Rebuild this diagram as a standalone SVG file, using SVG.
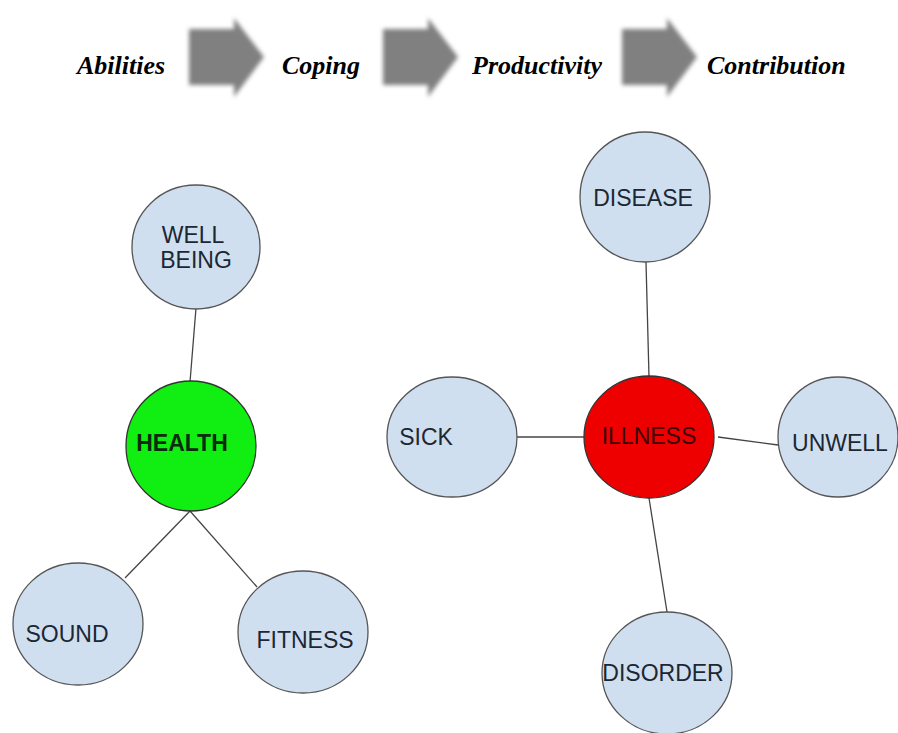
<svg xmlns="http://www.w3.org/2000/svg" width="898" height="733" viewBox="0 0 898 733">
<style>
.hdr{font-family:"Liberation Serif","Times New Roman",serif;font-weight:bold;font-style:italic;font-size:26px;fill:#000}
.lbl{font-family:"Liberation Sans",Arial,sans-serif;font-size:23px;fill:#1c2733;text-anchor:middle}
.node{fill:#cfdff0;stroke:#555;stroke-width:1.3}
.edge{stroke:#444;stroke-width:1.3;fill:none}
.arrow{fill:#808080;filter:url(#blur)}
</style>
<defs>
<filter id="blur" x="-20%" y="-20%" width="140%" height="140%"><feGaussianBlur stdDeviation="2"/></filter>
<path id="arr" d="M0,9 L45,9 L45,-2 L75,37 L45,77 L45,65 L0,65 Z"/>
</defs>
<rect width="898" height="733" fill="#fff"/>
<g id="header">
<text class="hdr" x="77" y="74">Abilities</text>
<use href="#arr" class="arrow" x="189" y="20"/>
<text class="hdr" x="282" y="74">Coping</text>
<use href="#arr" class="arrow" x="383" y="20"/>
<text class="hdr" x="472" y="74">Productivity</text>
<use href="#arr" class="arrow" x="622" y="20"/>
<text class="hdr" x="707" y="74">Contribution</text>
</g>
<g id="connectors">
<line class="edge" x1="196" y1="308" x2="190" y2="382"/>
<line class="edge" x1="190" y1="511" x2="125" y2="578"/>
<line class="edge" x1="190" y1="511" x2="257" y2="587"/>
<line class="edge" x1="646" y1="262" x2="649" y2="377"/>
<line class="edge" x1="517" y1="437" x2="584" y2="437"/>
<line class="edge" x1="718" y1="437" x2="778" y2="445"/>
<line class="edge" x1="649" y1="498" x2="667" y2="612"/>
</g>
<g id="well-being">
<ellipse class="node" cx="196" cy="247" rx="64" ry="62"/>
<text class="lbl" x="193" y="243">WELL</text>
<text class="lbl" x="196" y="268">BEING</text>
</g>
<g id="health">
<ellipse cx="191" cy="446" rx="65" ry="65" fill="#11ee11" stroke="#333" stroke-width="1.3"/>
<text class="lbl" x="182" y="451" font-weight="bold" style="fill:#0c2a0c">HEALTH</text>
</g>
<g id="sound">
<ellipse class="node" cx="78" cy="624" rx="65" ry="61"/>
<text class="lbl" x="67" y="642">SOUND</text>
</g>
<g id="fitness">
<ellipse class="node" cx="303" cy="632" rx="65" ry="61"/>
<text class="lbl" x="305" y="648">FITNESS</text>
</g>
<g id="disease">
<ellipse class="node" cx="645" cy="197" rx="65" ry="65"/>
<text class="lbl" x="643" y="206">DISEASE</text>
</g>
<g id="illness">
<ellipse cx="649" cy="437" rx="65" ry="61" fill="#ee0000" stroke="#333" stroke-width="1.3"/>
<text class="lbl" x="649" y="444" style="fill:#3a0505">ILLNESS</text>
</g>
<g id="sick">
<ellipse class="node" cx="452" cy="437" rx="65" ry="60"/>
<text class="lbl" x="426" y="445">SICK</text>
</g>
<g id="unwell">
<ellipse class="node" cx="838" cy="437" rx="60" ry="60"/>
<text class="lbl" x="840" y="451">UNWELL</text>
</g>
<g id="disorder">
<ellipse class="node" cx="667" cy="673" rx="65" ry="61"/>
<text class="lbl" x="663" y="681">DISORDER</text>
</g>
</svg>
